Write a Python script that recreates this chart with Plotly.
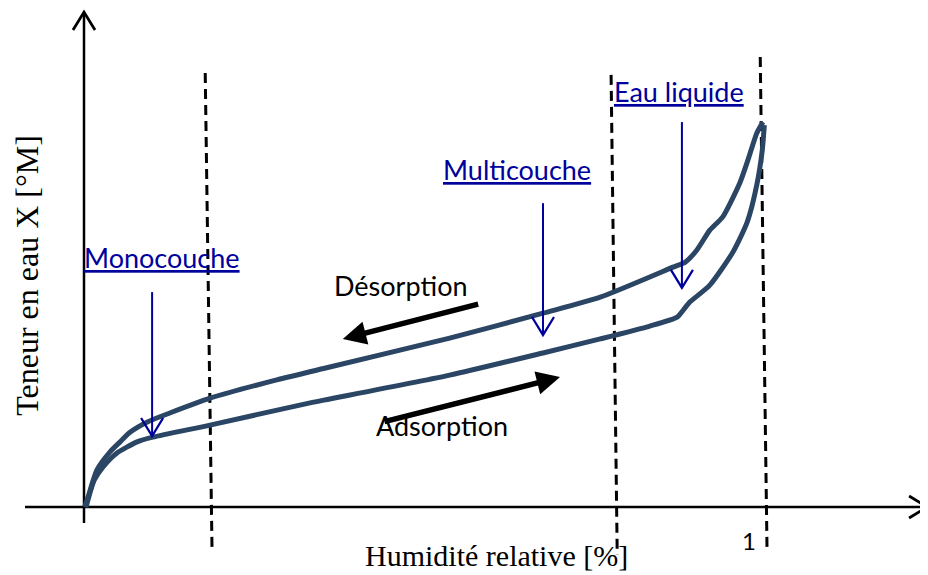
import plotly.graph_objects as go

# ---- data (relative humidity fraction, water content in arbitrary units) ----
ads_x = [0.003, 0.009, 0.015, 0.028, 0.048, 0.078, 0.101, 0.185, 0.332, 0.361, 0.537,
         0.674, 0.758, 0.831, 0.871, 0.880, 0.890, 0.919, 0.953, 0.974, 0.988, 0.996, 0.999]
ads_y = [0.000, 0.038, 0.069, 0.103, 0.138, 0.167, 0.179, 0.210, 0.267, 0.277, 0.338,
         0.395, 0.431, 0.464, 0.487, 0.505, 0.526, 0.569, 0.654, 0.731, 0.826, 0.915, 0.979]

des_x = [0.997, 0.988, 0.975, 0.963, 0.938, 0.919, 0.900, 0.883, 0.865, 0.758, 0.674,
         0.537, 0.361, 0.283, 0.185, 0.126, 0.093, 0.068, 0.053, 0.038, 0.019, 0.006, 0.001]
des_y = [0.987, 0.959, 0.890, 0.831, 0.744, 0.710, 0.659, 0.628, 0.615, 0.538, 0.497,
         0.433, 0.359, 0.326, 0.279, 0.241, 0.218, 0.192, 0.167, 0.141, 0.095, 0.026, 0.000]

# zone boundaries (dashed lines): x at top, x at bottom, y top, y bottom
zone_x_top = [0.178, 0.774, 0.993]
zone_x_bot = [0.188, 0.783, 1.003]
zone_y_top = [1.113, 1.108, 1.154]
zone_y_bot = [-0.110, -0.123, -0.110]

# zone labels and their pointer arrows
zone_labels = ["Monocouche", "Multicouche", "Eau liquide"]
zone_label_x = [0.115, 0.636, 0.874]
zone_label_y = [0.640, 0.866, 1.066]
pointer_x = [0.100, 0.674, 0.878]
pointer_y_from = [0.551, 0.779, 0.987]
pointer_y_to = [0.182, 0.441, 0.562]

# process direction arrows
proc_labels = ["Désorp\u200ction", "Adsorp\u200ction"]
proc_label_x = [0.465, 0.526]
proc_label_y = [0.569, 0.210]
proc_from_x = [0.581, 0.439]
proc_from_y = [0.521, 0.218]
proc_to_x = [0.380, 0.699]
proc_to_y = [0.431, 0.333]

# axes extents
x_axis_from, x_axis_to = -0.0866, 1.238
y_axis_from, y_axis_to = -0.041, 1.269

tick_value = 1
x_title = "Humidité relative [%]"
y_title = "Teneur en eau X [°M]"

CURVE = "#2b4565"
BLUE = "#00009c"
SANS = "Lato, 'Open Sans', sans-serif"
SERIF = "'Liberation Serif', 'Times New Roman', serif"

W, H = 928, 575
X_RANGE = [-0.1116, 1.2511]
Y_RANGE = [-0.1949, 1.2795]
PX_X = (X_RANGE[1] - X_RANGE[0]) / W   # data units per pixel
PX_Y = (Y_RANGE[1] - Y_RANGE[0]) / H

fig = go.Figure()


def add_line(xs, ys, color, width, dash=None):
    fig.add_trace(go.Scatter(x=xs, y=ys, mode="lines",
                             line=dict(color=color, width=width, dash=dash),
                             hoverinfo="skip", showlegend=False))


def add_chevron(x, y, direction, color, width, half=11, length=18):
    if direction == "down":
        xs = [x - half * PX_X, x, x + half * PX_X]
        ys = [y + length * PX_Y, y, y + length * PX_Y]
    elif direction == "up":
        xs = [x - half * PX_X, x, x + half * PX_X]
        ys = [y - length * PX_Y, y, y - length * PX_Y]
    else:  # right
        xs = [x - length * PX_X, x, x - length * PX_X]
        ys = [y + half * PX_Y, y, y - half * PX_Y]
    add_line(xs, ys, color, width)


for i in range(len(zone_x_top)):
    add_line([zone_x_top[i], zone_x_bot[i]], [zone_y_top[i], zone_y_bot[i]],
             "black", 3, "10px,6px")

# axes
add_line([0, 0], [y_axis_from, y_axis_to], "black", 2.5)
add_chevron(0, y_axis_to, "up", "black", 2.8)
add_line([x_axis_from, x_axis_to], [0, 0], "black", 2.5)
add_chevron(x_axis_to, 0, "right", "black", 2.8)

fig.add_trace(go.Scatter(x=ads_x, y=ads_y, mode="lines", name="Adsorption",
                         line=dict(color=CURVE, width=5, shape="spline", smoothing=0.6),
                         showlegend=False))
fig.add_trace(go.Scatter(x=des_x, y=des_y, mode="lines", name="Désorption",
                         line=dict(color=CURVE, width=5, shape="spline", smoothing=0.6),
                         showlegend=False))

# blue pointers
for i in range(len(pointer_x)):
    add_line([pointer_x[i], pointer_x[i]], [pointer_y_from[i], pointer_y_to[i]], BLUE, 2)
    add_chevron(pointer_x[i], pointer_y_to[i], "down", BLUE, 2.3)

ann = []
for i, lab in enumerate(zone_labels):
    ann.append(dict(x=zone_label_x[i], y=zone_label_y[i], xref="x", yref="y",
                    text="<u>%s</u>" % lab, showarrow=False,
                    font=dict(family=SANS, size=27, color=BLUE)))

for i, lab in enumerate(proc_labels):
    ann.append(dict(x=proc_label_x[i], y=proc_label_y[i], xref="x", yref="y",
                    text=lab, showarrow=False,
                    font=dict(family=SANS, size=27, color="black")))
    ann.append(dict(x=proc_to_x[i], y=proc_to_y[i], ax=proc_from_x[i], ay=proc_from_y[i],
                    xref="x", yref="y", axref="x", ayref="y", text="", showarrow=True,
                    arrowhead=2, arrowsize=0.85, arrowwidth=5.5, arrowcolor="black",
                    standoff=0, startstandoff=0))

ann.append(dict(x=0.977, y=-0.087, xref="x", yref="y", text=str(tick_value), showarrow=False,
                font=dict(family=SANS, size=24, color="black")))
ann.append(dict(x=0.606, y=-0.125, xref="x", yref="y", text=x_title, showarrow=False,
                font=dict(family=SERIF, size=30, color="black")))
ann.append(dict(x=-0.084, y=0.595, xref="x", yref="y", text=y_title, showarrow=False,
                textangle=-90, font=dict(family=SERIF, size=32, color="black")))

# page body has an 8px margin: ranges are shifted so the drawing lands where the reference has it
fig.update_layout(
    width=W, height=H,
    margin=dict(l=0, r=0, t=0, b=0),
    paper_bgcolor="white", plot_bgcolor="white",
    xaxis=dict(range=X_RANGE, visible=False, fixedrange=True),
    yaxis=dict(range=Y_RANGE, visible=False, fixedrange=True),
    annotations=ann,
    showlegend=False,
)

fig.write_html("out.html")
